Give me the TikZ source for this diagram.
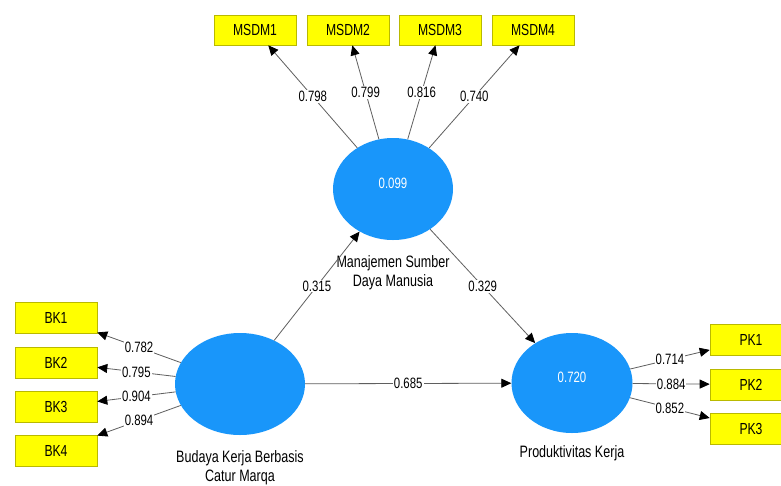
\documentclass[tikz,border=0pt]{standalone}
\usepackage{fontspec}
\setmainfont{Liberation Sans}[FakeStretch=0.76]
\usetikzlibrary{shapes.geometric,arrows.meta}
\definecolor{lvfill}{RGB}{25,150,250}
\definecolor{indfill}{RGB}{255,255,0}
\definecolor{indline}{RGB}{185,185,0}
\definecolor{lncol}{RGB}{95,95,95}
\begin{document}
\begin{tikzpicture}[x=1pt,y=-1pt,
  indbox/.style={draw=indline, line width=0.6pt, fill=indfill, minimum width=82pt, minimum height=31pt, inner sep=0pt, font=\fontsize{16}{18}\selectfont},
  lvs/.style={ellipse, fill=lvfill, draw=none, inner sep=0pt},
  lvval/.style={text=white, font=\fontsize{15}{17}\selectfont, inner sep=0pt},
  lvlab/.style={align=center, inner sep=0pt, font=\fontsize{16.5}{19}\selectfont},
  ld/.style={draw=lncol, line width=0.8pt, -{Triangle[length=10pt,width=9pt,color=black]}},
  cf/.style={fill=white, inner sep=1pt, font=\fontsize{15}{17}\selectfont, midway}]
\useasboundingbox (0,0) rectangle (781,485);
\fill[white] (0,0) rectangle (781,485);
\clip (0,0) rectangle (781,485);

% latent variables
\node[lvs, minimum width=120pt, minimum height=102pt] (msdm) at (393,189) {};
\node[lvs, minimum width=130pt, minimum height=102pt] (bk) at (240,384) {};
\node[lvs, minimum width=121pt, minimum height=100pt] (pk) at (572,383) {};
\node[lvval] (msdmv) at (393,183) {0.099};
\node[lvval] (pkv) at (572,377) {0.720};

% latent labels
\node[lvlab] (msdml) at (393,273) {Manajemen Sumber\\Daya Manusia};
\node[lvlab] (bkl) at (240,468) {Budaya Kerja Berbasis\\Catur Marqa};
\node[lvlab] (pkl) at (572,453) {Produktivitas Kerja};

% indicators
\node[indbox, minimum height=30pt] (m1) at (255,30) {MSDM1};
\node[indbox, minimum height=30pt] (m2) at (348,30) {MSDM2};
\node[indbox, minimum height=30pt] (m3) at (440,30) {MSDM3};
\node[indbox, minimum height=30pt] (m4) at (533,30) {MSDM4};
\node[indbox] (b1) at (56,317.5) {BK1};
\node[indbox] (b2) at (56,362.5) {BK2};
\node[indbox] (b3) at (56,406.5) {BK3};
\node[indbox] (b4) at (56,450.5) {BK4};
\node[indbox] (p1) at (751,340) {PK1};
\node[indbox] (p2) at (751,384.5) {PK2};
\node[indbox] (p3) at (751,428.5) {PK3};

% outer loadings
\draw[ld] (msdm) -- node[cf]{0.798} (m1);
\draw[ld] (msdm) -- node[cf]{0.799} (m2);
\draw[ld] (msdm) -- node[cf]{0.816} (m3);
\draw[ld] (msdm) -- node[cf]{0.740} (m4);
\draw[ld] (bk) -- node[cf]{0.782} (b1);
\draw[ld] (bk) -- node[cf]{0.795} (b2);
\draw[ld] (bk) -- node[cf]{0.904} (b3);
\draw[ld] (bk) -- node[cf]{0.894} (b4);
\draw[ld] (pk) -- node[cf]{0.714} (p1);
\draw[ld] (pk) -- node[cf]{0.884} (p2);
\draw[ld] (pk) -- node[cf]{0.852} (p3);

% path coefficients
\draw[ld] (bk) -- node[cf]{0.315} (msdm);
\draw[ld] (msdm) -- node[cf]{0.329} (pk);
\draw[ld] (bk) -- node[cf]{0.685} (pk);
\end{tikzpicture}
\end{document}
